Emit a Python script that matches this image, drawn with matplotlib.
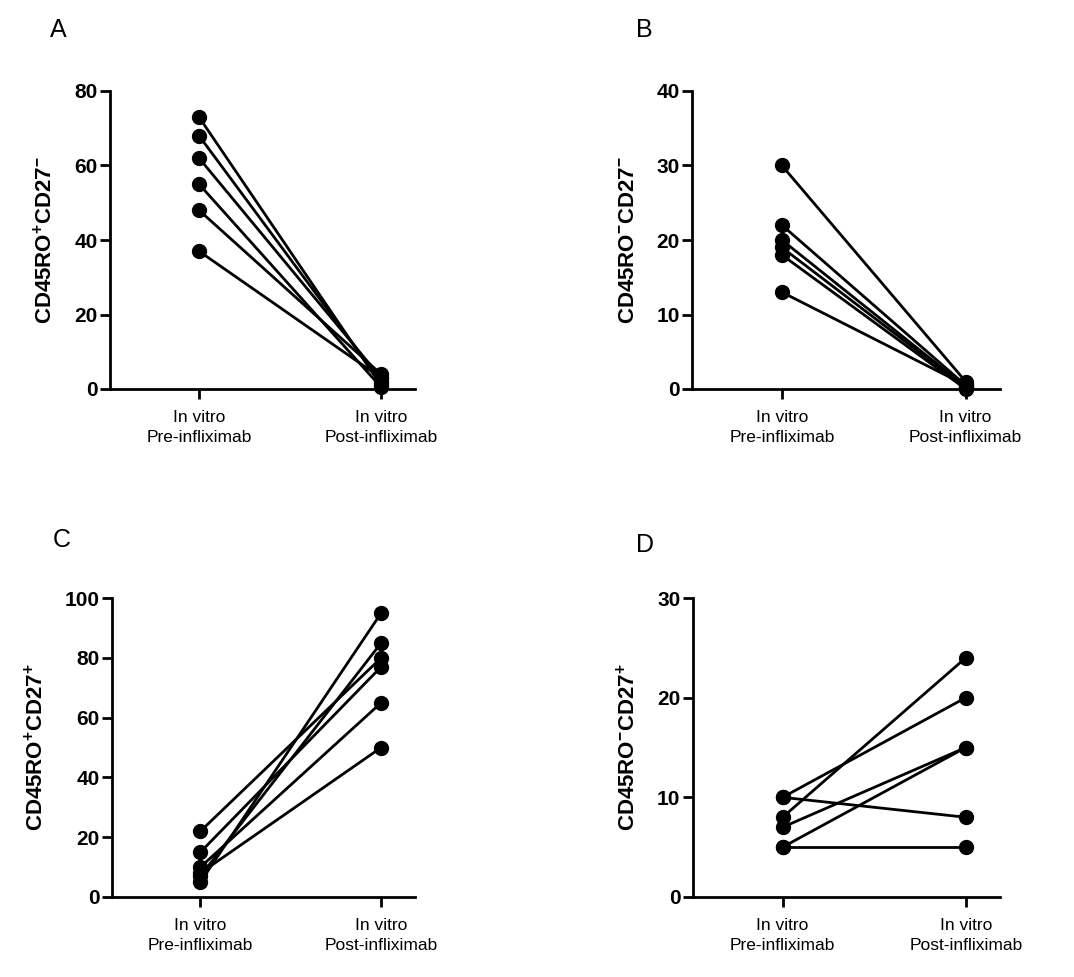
import numpy as np
import matplotlib
matplotlib.use("Agg")
import matplotlib.pyplot as plt

plt.rcParams['font.family'] = ['Liberation Sans', 'DejaVu Sans']
plt.rcParams['mathtext.fontset'] = 'custom'
plt.rcParams['mathtext.rm'] = 'Liberation Sans'
plt.rcParams['mathtext.bf'] = 'Liberation Sans:bold'

categories = ["In vitro\nPre-infliximab", "In vitro\nPost-infliximab"]

# panel A: CD45RO+CD27-
a_pre = [73, 68, 62, 55, 48, 37]
a_post = [1, 2, 3, 0.5, 4, 3]
# panel B: CD45RO-CD27-
b_pre = [30, 22, 20, 19, 18, 13]
b_post = [1, 0.5, 0.3, 0.2, 0, 0.5]
# panel C: CD45RO+CD27+
c_pre = [22, 15, 10, 8, 7, 5]
c_post = [80, 77, 65, 50, 85, 95]
# panel D: CD45RO-CD27+
d_pre = [10, 10, 8, 7, 5, 5]
d_post = [20, 8, 24, 15, 15, 5]

panels = [
    ("A", a_pre, a_post, 80, 20, r"CD45RO$^{\mathbf{+}}$CD27$^{\mathbf{-}}$"),
    ("B", b_pre, b_post, 40, 10, r"CD45RO$^{\mathbf{-}}$CD27$^{\mathbf{-}}$"),
    ("C", c_pre, c_post, 100, 20, r"CD45RO$^{\mathbf{+}}$CD27$^{\mathbf{+}}$"),
    ("D", d_pre, d_post, 30, 10, r"CD45RO$^{\mathbf{-}}$CD27$^{\mathbf{+}}$"),
]

# axes boxes in pixels: left, top(y of max), right, bottom(y of 0)
boxes = [(110, 91, 415, 389), (692, 91, 1000, 389),
         (112, 598, 415, 897), (693, 598, 1000, 897)]
letter_pos = [(58, 30), (644, 30), (62, 540), (645, 545)]

W, H = 1074, 977
fig = plt.figure(figsize=(W / 100, H / 100), dpi=100)

for (letter, pre, post, ymax, step, ylab), (l, t, r, b), (lx, ly) in zip(panels, boxes, letter_pos):
    ax = fig.add_axes([l / W, (H - b) / H, (r - l) / W, (b - t) / H])
    for p0, p1 in zip(pre, post):
        ax.plot([1, 2], [p0, p1], color='black', lw=2, marker='o', ms=10,
                clip_on=False, solid_capstyle='round')
    ax.set_xlim(1 - 89 / 182, 2 + 34 / 182)
    ax.set_ylim(0, ymax)
    ax.set_yticks(np.arange(0, ymax + 1, step))
    ax.set_xticks([1, 2])
    ax.set_xticklabels(categories, fontsize=12.5, linespacing=1.4)
    for lab in ax.get_yticklabels():
        lab.set_fontweight('bold')
        lab.set_fontsize(15)
    ax.spines['top'].set_visible(False)
    ax.spines['right'].set_visible(False)
    ax.spines['left'].set_linewidth(2)
    ax.spines['bottom'].set_linewidth(2)
    ax.tick_params(axis='both', width=2, length=7, direction='out')
    ax.tick_params(axis='x', pad=8)
    ax.tick_params(axis='y', pad=2)
    ax.set_ylabel(ylab, fontsize=16, fontweight='bold', labelpad=12)
    fig.text(lx / W, 1 - ly / H, letter, fontsize=18, ha='center', va='center')

fig.savefig("out.png", dpi=100, facecolor='white')
